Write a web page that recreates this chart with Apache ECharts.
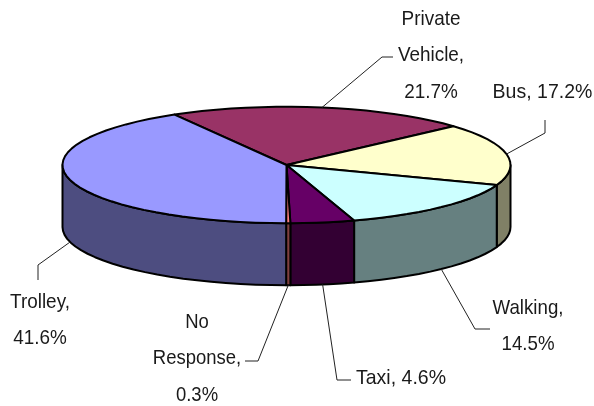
<!DOCTYPE html>
<html>
<head>
<meta charset="utf-8">
<style>html,body{margin:0;padding:0;background:#fff}#chart{width:594px;height:406px}</style>
<script src="https://cdn.jsdelivr.net/npm/echarts@6/dist/echarts.min.js"></script>
</head>
<body>
<div id="chart"></div>
<script>
// Mode share, clockwise from the upper left of the disc
const categories = ['Private Vehicle', 'Bus', 'Walking', 'Taxi', 'No Response', 'Trolley'];
const shares = [21.7, 17.2, 14.5, 4.6, 0.3, 41.6];
const topColors = ['#993366', '#FFFFCC', '#CCFFFF', '#660066', '#FF8080', '#9999FF'];
const sideColors = ['#4D1A33', '#808066', '#668080', '#330033', '#804040', '#4D4D80'];

// Disc geometry
const disc = { cx: 286.5, cy: 165, rx: 224, ry: 58.2, depth: 62, startDeg: -30 };

// Label placement: text centre, first line centre, line split, leader bend points
const labelLayout = [
  { x: 431, y: 19, wrapName: true, wrapValue: true, scale: 0.9, bend: [[382, 57], [393, 57]] },
  { x: 542.5, y: 92, wrapName: false, wrapValue: false, scale: 0.93, bend: [[545, 133], [545, 120]] },
  { x: 528, y: 308, wrapName: false, wrapValue: true, scale: 0.89, bend: [[475, 329], [490, 329]] },
  { x: 401, y: 378, wrapName: false, wrapValue: false, scale: 0.93, bend: [[337, 380], [351, 380]] },
  { x: 197, y: 322, wrapName: true, wrapValue: true, scale: 0.88, bend: [[258, 361], [245, 361]] },
  { x: 40, y: 302, wrapName: false, wrapValue: true, scale: 0.9, bend: [[38, 265], [38, 280]] }
];

const total = shares.reduce((a, b) => a + b, 0);
const spans = [];
shares.reduce((acc, v) => {
  const next = acc + v / total * 360;
  spans.push([acc, next]);
  return next;
}, disc.startDeg);

// Angle is measured clockwise from the top of the ellipse
function rim(deg, drop) {
  const r = deg * Math.PI / 180;
  return [disc.cx + disc.rx * Math.sin(r), disc.cy - disc.ry * Math.cos(r) + (drop || 0)];
}
function arc(a, b, drop) {
  const n = Math.max(1, Math.ceil(Math.abs(b - a) / 4));
  const pts = [];
  for (let i = 0; i <= n; i++) pts.push(rim(a + (b - a) * i / n, drop));
  return pts;
}

// Rim wall: only the part on the near half of the disc can be seen
function renderSide(params, api) {
  const i = params.dataIndex;
  const ranges = [[spans[i][0], spans[i][1]], [spans[i][0] + 360, spans[i][1] + 360]];
  const children = [];
  ranges.forEach(function (rg) {
    const a = Math.max(rg[0], 90), b = Math.min(rg[1], 270);
    if (b <= a) return;
    const pts = arc(a, b, 0).concat(arc(b, a, disc.depth));
    children.push({
      type: 'polygon',
      shape: { points: pts },
      style: { fill: sideColors[i], stroke: '#000', lineWidth: 2, lineJoin: 'round' }
    });
  });
  return { type: 'group', children: children };
}

function renderTop(params, api) {
  const i = params.dataIndex;
  const pts = [[disc.cx, disc.cy]].concat(arc(spans[i][0], spans[i][1], 0));
  return {
    type: 'polygon',
    shape: { points: pts },
    style: { fill: topColors[i], stroke: '#000', lineWidth: 2, lineJoin: 'round' }
  };
}

// Leader line runs from the rim at the slice's mid angle to its text
function renderLabel(params, api) {
  const i = params.dataIndex;
  const lay = labelLayout[i];
  const mid = ((spans[i][0] + spans[i][1]) / 2 + 360) % 360;
  const seen = mid > 90 && mid < 270;
  const start = rim(mid, seen ? disc.depth : 0);
  const name = lay.wrapName ? categories[i].replace(' ', '\n') : categories[i];
  const value = api.value(0).toFixed(1) + '%';
  const text = name + ',' + (lay.wrapValue ? '\n' : ' ') + value;
  const children = [{
    type: 'polyline',
    shape: { points: [start].concat(lay.bend) },
    style: { fill: 'none', stroke: '#222', lineWidth: 1 }
  }];
  text.split('\n').forEach(function (line, k) {
    children.push({
      type: 'text',
      x: lay.x,
      y: lay.y + k * 36.5,
      scaleX: lay.scale,
      style: {
        text: line, x: 0, y: 0,
        align: 'center', verticalAlign: 'middle',
        fill: '#1a1a1a', font: '21px "Liberation Sans", Arial, sans-serif'
      }
    });
  });
  return { type: 'group', children: children };
}

const chart = echarts.init(document.getElementById('chart'), null, { renderer: 'canvas' });
const seriesData = shares.map((v, i) => ({ name: categories[i], value: [v] }));
chart.setOption({
  animation: false,
  backgroundColor: '#fff',
  series: [
    { type: 'custom', coordinateSystem: 'none', renderItem: renderSide, data: seriesData, z: 1, silent: true },
    { type: 'custom', coordinateSystem: 'none', renderItem: renderTop, data: seriesData, z: 2, silent: true },
    { type: 'custom', coordinateSystem: 'none', renderItem: renderLabel, data: seriesData, z: 3, silent: true }
  ]
});
</script>
</body>
</html>
